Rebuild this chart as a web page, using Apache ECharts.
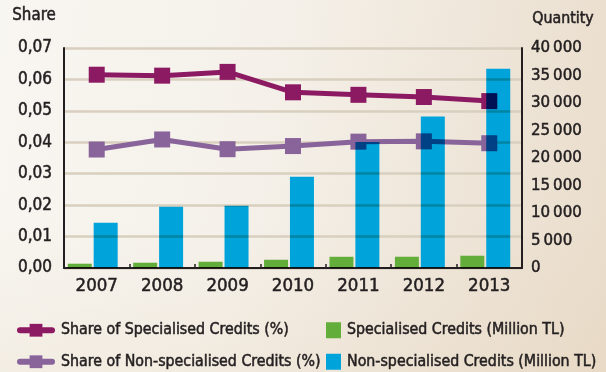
<!DOCTYPE html>
<html>
<head>
<meta charset="utf-8">
<script src="https://cdn.jsdelivr.net/npm/echarts@6/dist/echarts.min.js"></script>
<style>
  html, body { margin: 0; padding: 0; }
  #chart {
    width: 606px; height: 372px;
    background:
      linear-gradient(180deg, rgba(255,255,255,0) 60%, rgba(225,205,175,0.18) 100%),
      linear-gradient(100deg, #f8f6f1 0%, #f5f1ea 40%, #eee5d8 75%, #e9dcca 100%);
  }
</style>
</head>
<body>
<div id="chart"></div>
<script>
// Years on the category axis
const years = ['2007', '2008', '2009', '2010', '2011', '2012', '2013'];

// Shares (left axis)
const shareSpecialised = [0.0615, 0.0612, 0.0624, 0.0559, 0.0551, 0.0544, 0.0531];
const shareNonSpecialised = [0.0377, 0.0409, 0.0378, 0.0388, 0.0402, 0.0403, 0.0397];

// Credit volumes, million TL (right axis)
const specialisedCredits = [780, 960, 1140, 1500, 2040, 2050, 2230];
const nonSpecialisedCredits = [8250, 11150, 11330, 16580, 22900, 27560, 36250];

// Tick ranges
const shareMax = 0.07, shareStep = 0.01;
const qtyMax = 40000, qtyStep = 5000;

const FONT = '"DejaVu Sans Condensed", "Liberation Sans", sans-serif';
const INK = '#231f20';
const GRID_COLOR = '#d8cfbf';

// a hairline outline in the text colour gives the labels a medium weight
const HEAVY = { textBorderColor: INK, textBorderWidth: 0.5 };

const C_SPEC_LINE = '#8c1a62';
const C_NONSPEC_LINE = '#88649a';
const C_GREEN = '#63ad3a';
const C_BLUE = '#00a3da';

function fmtShare(v) { return v.toFixed(2).replace('.', ','); }
function fmtQty(v) {
  return String(Math.round(v)).replace(/\B(?=(\d{3})+(?!\d))/g, '\u2009');
}

const chart = echarts.init(document.getElementById('chart'), null, { renderer: 'canvas' });

chart.setOption({
  backgroundColor: 'transparent',
  animation: false,
  textStyle: { fontFamily: FONT, color: INK },
  grid: [
    // axes and share lines
    { left: 64, right: 84, top: 48, bottom: 104 },
    // credit bars, shifted slightly left within each year
    { left: 60, right: 88, top: 48, bottom: 104 }
  ],
  xAxis: [
    {
      type: 'category', gridIndex: 0, data: years,
      axisLine: { show: true, lineStyle: { color: INK, width: 2 } },
      axisTick: { show: true, inside: true, length: 4, lineStyle: { color: INK, width: 1.5 } },
      axisLabel: Object.assign({ color: INK, fontSize: 18.5, fontFamily: FONT, margin: 9 }, HEAVY),
      splitLine: { show: false }
    },
    {
      type: 'category', gridIndex: 1, data: years, show: false
    }
  ],
  yAxis: [
    {
      type: 'value', gridIndex: 0, min: 0, max: shareMax, interval: shareStep,
      axisLine: { show: true, lineStyle: { color: INK, width: 2 } },
      axisTick: { show: false },
      axisLabel: Object.assign({ color: INK, fontSize: 17, fontFamily: FONT, margin: 12, formatter: fmtShare }, HEAVY),
      splitLine: { show: true, lineStyle: { color: GRID_COLOR, width: 2.5 } }
    },
    {
      type: 'value', gridIndex: 0, position: 'right', min: 0, max: qtyMax, interval: qtyStep,
      axisLine: { show: true, lineStyle: { color: INK, width: 2 } },
      axisTick: { show: false },
      axisLabel: Object.assign({ color: INK, fontSize: 16.7, fontFamily: FONT, margin: 9, formatter: fmtQty }, HEAVY),
      splitLine: { show: false }
    },
    {
      type: 'value', gridIndex: 1, min: 0, max: qtyMax, interval: qtyStep, show: false,
      splitLine: { show: false }
    }
  ],
  legend: [
    {
      left: 17, top: 322, orient: 'vertical', itemGap: 15, padding: 0,
      itemWidth: 32, itemHeight: 16,
      lineStyle: { width: 6, cap: 'round' },
      textStyle: Object.assign({ color: INK, fontSize: 15.8, fontFamily: FONT, padding: [0, 0, 0, 4] }, HEAVY),
      data: ['Share of Specialised Credits (%)', 'Share of Non-specialised Credits (%)']
    },
    {
      left: 326, top: 322, orient: 'vertical', itemGap: 15, padding: 0,
      itemWidth: 15, itemHeight: 16, icon: 'rect',
      textStyle: Object.assign({ color: INK, fontSize: 15.8, fontFamily: FONT, padding: [0, 0, 0, 1] }, HEAVY),
      data: ['Specialised Credits (Million TL)', 'Non-specialised Credits (Million TL)']
    }
  ],
  graphic: [
    { type: 'text', left: 12, top: 7, style: { text: 'Share', fill: INK, stroke: INK, lineWidth: 0.5, font: '16.8px ' + FONT } },
    { type: 'text', left: 532, top: 11, style: { text: 'Quantity', fill: INK, stroke: INK, lineWidth: 0.5, font: '15.8px ' + FONT } }
  ],
  series: [
    {
      name: 'Share of Specialised Credits (%)', type: 'line',
      xAxisIndex: 0, yAxisIndex: 0, data: shareSpecialised,
      z: 2, symbol: 'rect', symbolSize: 16, showSymbol: true,
      lineStyle: { color: C_SPEC_LINE, width: 5 },
      itemStyle: { color: C_SPEC_LINE }
    },
    {
      name: 'Share of Non-specialised Credits (%)', type: 'line',
      xAxisIndex: 0, yAxisIndex: 0, data: shareNonSpecialised,
      z: 2, symbol: 'rect', symbolSize: 16, showSymbol: true,
      lineStyle: { color: C_NONSPEC_LINE, width: 5 },
      itemStyle: { color: C_NONSPEC_LINE }
    },
    {
      name: 'Specialised Credits (Million TL)', type: 'bar',
      xAxisIndex: 1, yAxisIndex: 2, data: specialisedCredits,
      z: 4, barWidth: 24, barGap: '8%', blendMode: 'multiply',
      itemStyle: { color: C_GREEN }
    },
    {
      name: 'Non-specialised Credits (Million TL)', type: 'bar',
      xAxisIndex: 1, yAxisIndex: 2, data: nonSpecialisedCredits,
      z: 4, barWidth: 24, barGap: '8%', blendMode: 'multiply',
      itemStyle: { color: C_BLUE }
    }
  ]
});
</script>
</body>
</html>
